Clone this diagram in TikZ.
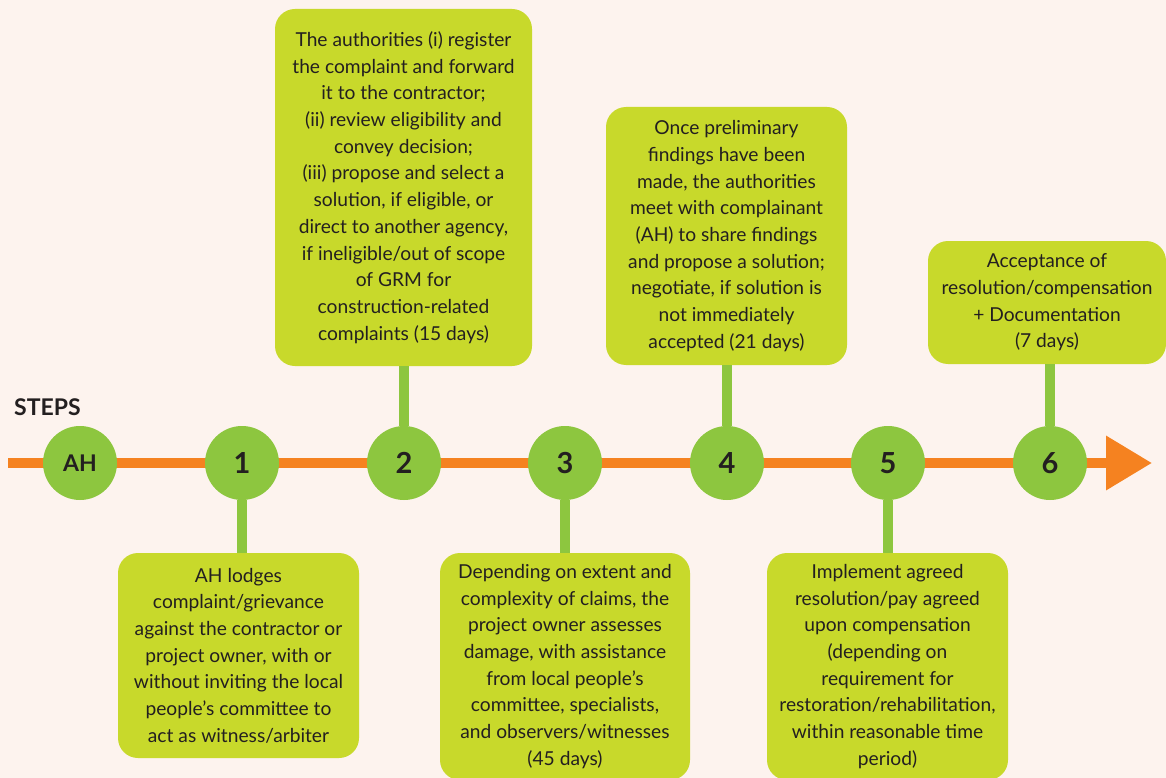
\documentclass[tikz,border=0pt]{standalone}
\usepackage{fontspec}
\setmainfont{Lato}
\usetikzlibrary{arrows.meta}
\definecolor{bgc}{HTML}{FDF3EE}
\definecolor{orangeline}{HTML}{F58220}
\definecolor{circgreen}{HTML}{8DC63F}
\definecolor{boxgreen}{HTML}{C8D92B}
\definecolor{txt}{HTML}{231F20}
\tikzset{
  stepcirc/.style={circle, fill=circgreen, minimum size=74pt, inner sep=0pt, text=txt, font=\fontsize{29}{29}\selectfont\bfseries},
  infobox/.style={rectangle, rounded corners=20pt, fill=boxgreen, inner sep=0pt, align=center, text=txt, font=\fontsize{19.2}{26.7}\selectfont},
  stem/.style={circgreen, line width=10pt},
}
\begin{document}
\begin{tikzpicture}[x=1pt,y=-1pt]
\fill[bgc] (0,0) rectangle (1166,778);
\useasboundingbox (0,0) rectangle (1166,778);
% boxes
\node[infobox, minimum width=241pt, minimum height=205pt] (b1) at (238.5,655.5) {AH lodges\\complaint/grievance\\against the contractor or\\project owner, with or\\without inviting the local\\people’s committee to\\act as witness/arbiter};
\node[infobox, minimum width=257pt, minimum height=357pt] (b2) at (403.5,187.5) {The authorities (i) register\\the complaint and forward\\it to the contractor;\\(ii) review eligibility and\\convey decision;\\(iii) propose and select a\\solution, if eligible, or\\direct to another agency,\\if ineligible/out of scope\\of GRM for\\construction-related\\complaints (15 days)};
\node[infobox, minimum width=250pt, minimum height=227pt] (b3) at (565,666.5) {Depending on extent and\\complexity of claims, the\\project owner assesses\\damage, with assistance\\from local people’s\\committee, specialists,\\and observers/witnesses\\(45 days)};
\node[infobox, minimum width=241pt, minimum height=258pt] (b4) at (726.5,236) {Once preliminary\\findings have been\\made, the authorities\\meet with complainant\\(AH) to share findings\\and propose a solution;\\negotiate, if solution is\\not immediately\\accepted (21 days)};
\node[infobox, minimum width=241pt, minimum height=227pt] (b5) at (887.5,666.5) {Implement agreed\\resolution/pay agreed\\upon compensation\\(depending on\\requirement for\\restoration/rehabilitation,\\within reasonable time\\period)};
\node[infobox, minimum width=238pt, minimum height=123pt] (b6) at (1047,302.5) {Acceptance of\\resolution/compensation\\+ Documentation\\(7 days)};
% timeline
\coordinate (start) at (8,463);
\coordinate (tip) at (1152,463);
\draw[orangeline, line width=10pt, -{Triangle[length=46pt,width=52pt]}] (start) -- (tip);
% circles
\node[stepcirc, font=\fontsize{23}{23}\selectfont\bfseries] (c0) at (80,463) {AH};
\node[stepcirc] (c1) at (242,463) {1};
\node[stepcirc] (c2) at (404,463) {2};
\node[stepcirc] (c3) at (565,463) {3};
\node[stepcirc] (c4) at (727,463) {4};
\node[stepcirc] (c5) at (888,463) {5};
\node[stepcirc] (c6) at (1050,463) {6};
% stems
\draw[stem] (c1.south) -- (c1.south |- b1.north);
\draw[stem] (c2.north) -- (c2.north |- b2.south);
\draw[stem] (c3.south) -- (c3.south |- b3.north);
\draw[stem] (c4.north) -- (c4.north |- b4.south);
\draw[stem] (c5.south) -- (c5.south |- b5.north);
\draw[stem] (c6.north) -- (c6.north |- b6.south);
\node[font=\fontsize{23}{23}\selectfont\bfseries, text=txt, anchor=west, inner sep=0pt] (steps) at (14,407) {STEPS};
\end{tikzpicture}
\end{document}
